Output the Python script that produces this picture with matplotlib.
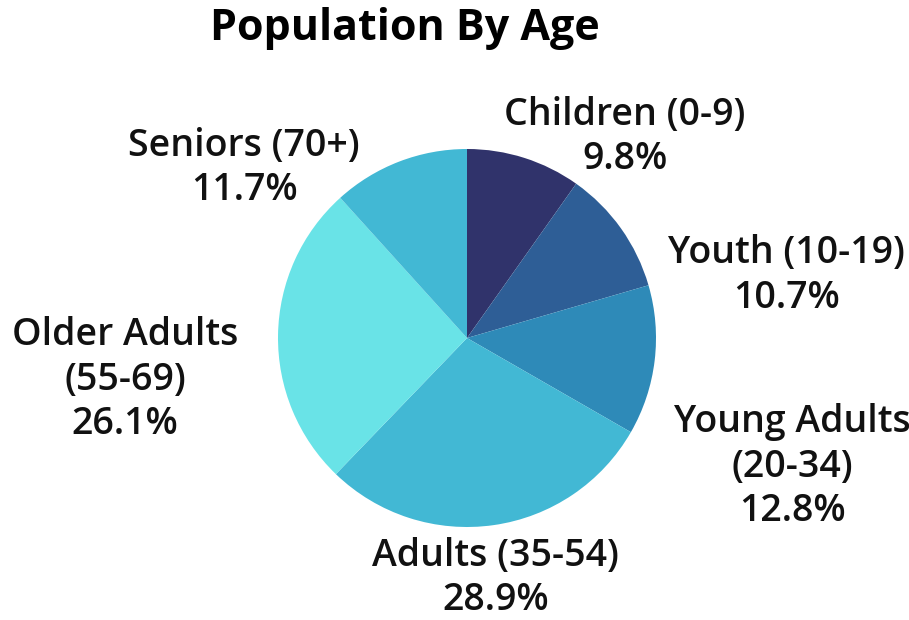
import matplotlib
matplotlib.use("Agg")
import matplotlib.pyplot as plt
import numpy as np

plt.rcParams['font.family'] = ['Open Sans', 'DejaVu Sans']

# data
groups = ['Children (0-9)', 'Youth (10-19)', 'Young Adults\n(20-34)', 'Adults (35-54)',
          'Older Adults\n(55-69)', 'Seniors (70+)']
shares = [9.8, 10.7, 12.8, 28.9, 26.1, 11.7]
colors = ['#30336b', '#2e5e96', '#2e8ab8', '#42b8d4', '#69e3e7', '#42b8d4']

# label centres, in pie radius units
label_pos = [(0.835, 1.065), (1.69, 0.33), (1.72, -0.68), (0.15, -1.27), (-1.81, -0.22), (-1.18, 0.90)]

W, H = 909, 620
cx, cy, R = 467, 282, 189   # pie centre (px from left/bottom) and radius

fig = plt.figure(figsize=(W / 100, H / 100), dpi=100)
ax = fig.add_axes([0, 0, 1, 1])
ax.pie(shares, colors=colors, startangle=90, counterclock=False, radius=1,
       wedgeprops=dict(linewidth=0))
ax.set_xlim(-cx / R, (W - cx) / R)
ax.set_ylim(-cy / R, (H - cy) / R)
ax.set_aspect('auto')
ax.axis('off')

for name, val, (x, y) in zip(groups, shares, label_pos):
    ax.text(x, y, f"{name}\n{val:.1f}%", ha='center', va='center', fontsize=27,
            fontweight='semibold', color='#111111', linespacing=1.22)

fig.text(405 / W, 1 - 29 / H, 'Population By Age', ha='center', va='center',
         fontsize=31, fontweight='bold', color='#000000')

fig.savefig('out.png', dpi=100)
